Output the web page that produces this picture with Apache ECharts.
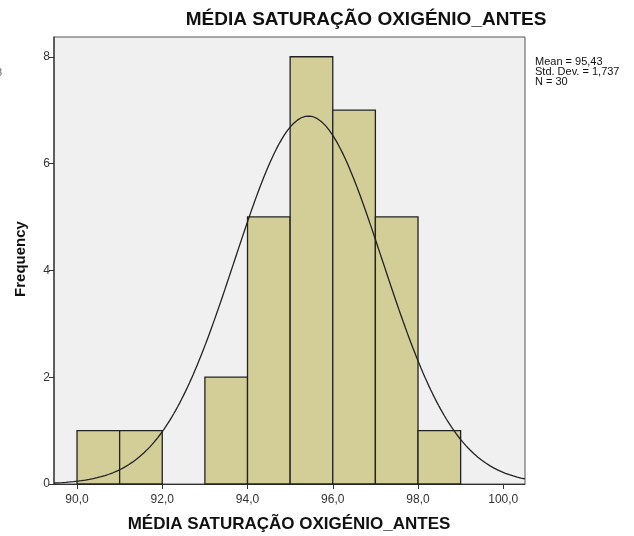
<!DOCTYPE html>
<html>
<head>
<meta charset="utf-8">
<script src="https://cdn.jsdelivr.net/npm/echarts@6/dist/echarts.min.js"></script>
<style>
  html, body { margin: 0; padding: 0; background: #fff; }
  #chart { width: 634px; height: 536px; }
</style>
</head>
<body>
<div id="chart"></div>
<script>
// Histogram bins (lower edge, upper edge) and their counts
const binStart = [90, 91, 92, 93, 94, 95, 96, 97, 98];
const binEnd   = [91, 92, 93, 94, 95, 96, 97, 98, 99];
const counts   = [1, 1, 0, 2, 5, 8, 7, 5, 1];

// Summary statistics shown beside the plot
const stats = { mean: 95.43, sd: 1.737, n: 30 };
const binWidth = 1;

// Axis tick positions
const xTicks = [90, 92, 94, 96, 98, 100];
const yTicks = [0, 2, 4, 6, 8];

const titleText = 'MÉDIA SATURAÇÃO OXIGÉNIO_ANTES';

const xMin = 89.46, xMax = 100.51;
const yMax = 8.37;

// Normal density scaled to counts, drawn from the stated mean and SD
const curve = [];
for (let i = 0; i <= 240; i++) {
  const x = xMin + (xMax - xMin) * i / 240;
  const z = (x - stats.mean) / stats.sd;
  const y = stats.n * binWidth / (stats.sd * Math.sqrt(2 * Math.PI)) * Math.exp(-0.5 * z * z);
  curve.push([x, y]);
}

const bars = binStart.map((s, i) => [s, binEnd[i], counts[i]]);
const fmt = v => v.toFixed(1).replace('.', ',');
const fmt2 = v => v.toFixed(2).replace('.', ',');

const chart = echarts.init(document.getElementById('chart'));
chart.setOption({
  animation: false,
  backgroundColor: '#ffffff',
  grid: {
    left: 54, top: 37, right: 109, bottom: 52,
    show: true, backgroundColor: '#f0f0f0', borderColor: '#555', borderWidth: 1
  },
  xAxis: {
    type: 'value', min: xMin, max: xMax,
    splitLine: { show: false },
    axisLine: { show: true, onZero: false, lineStyle: { color: '#333', width: 1 } },
    axisTick: { show: true, length: 5, customValues: xTicks, lineStyle: { color: '#333' } },
    axisLabel: {
      customValues: xTicks, formatter: v => fmt(v),
      color: '#333', fontFamily: 'Liberation Sans, Arial', fontSize: 12, margin: 10
    }
  },
  yAxis: {
    type: 'value', min: 0, max: yMax,
    splitLine: { show: false },
    axisLine: { show: true, lineStyle: { color: '#444', width: 1.5 } },
    axisTick: { show: true, length: 5, customValues: yTicks, lineStyle: { color: '#333' } },
    axisLabel: {
      customValues: yTicks, color: '#333',
      fontFamily: 'Liberation Sans, Arial', fontSize: 12, margin: 4
    }
  },
  series: [
    {
      type: 'custom',
      data: bars,
      renderItem: function (params, api) {
        if (api.value(2) <= 0) return null;
        const p0 = api.coord([api.value(0), api.value(2)]);
        const p1 = api.coord([api.value(1), 0]);
        return {
          type: 'rect',
          shape: { x: p0[0], y: p0[1], width: p1[0] - p0[0], height: p1[1] - p0[1] },
          style: { fill: '#d3ce98', stroke: '#222', lineWidth: 1.3 }
        };
      },
      encode: { x: [0, 1], y: 2 },
      z: 2
    },
    {
      type: 'line',
      data: curve,
      showSymbol: false,
      smooth: false,
      lineStyle: { color: '#222', width: 1.3 },
      z: 3
    }
  ],
  graphic: [
    {
      type: 'text', x: 366, y: 10,
      style: {
        text: titleText, textAlign: 'center', textVerticalAlign: 'top',
        font: 'bold 19px "Liberation Sans", Arial', fill: '#111'
      }
    },
    {
      type: 'text', x: 289, y: 516,
      style: {
        text: titleText, textAlign: 'center', textVerticalAlign: 'top',
        font: 'bold 17px "Liberation Sans", Arial', fill: '#111'
      }
    },
    {
      type: 'text', x: 21, y: 259, rotation: Math.PI / 2,
      style: {
        text: 'Frequency', textAlign: 'center', textVerticalAlign: 'middle',
        font: 'bold 15px "Liberation Sans", Arial', fill: '#111'
      }
    },
    {
      type: 'text', x: 535, y: 57,
      style: {
        text: 'Mean = ' + fmt2(stats.mean) + '\nStd. Dev. = ' + String(stats.sd).replace('.', ',') + '\nN = ' + stats.n,
        font: '11px "Liberation Sans Narrow", "Liberation Sans", Arial', fill: '#111', lineHeight: 10
      }
    },
    {
      type: 'text', x: -4, y: 67,
      style: { text: '8', font: '11px "Liberation Sans", Arial', fill: '#666' }
    }
  ]
});
</script>
</body>
</html>
